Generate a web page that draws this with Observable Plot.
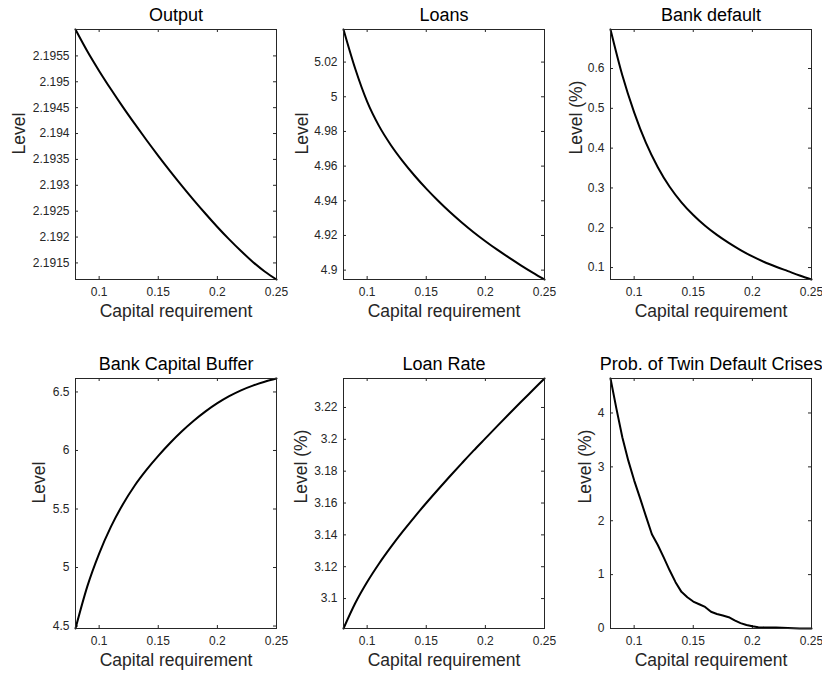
<!DOCTYPE html>
<html>
<head>
<meta charset="utf-8">
<script src="https://cdn.jsdelivr.net/npm/d3@7"></script>
<script src="https://cdn.jsdelivr.net/npm/@observablehq/plot@0.6"></script>
<style>
  html, body { margin: 0; padding: 0; background: #fff; }
  #figure { position: relative; width: 822px; height: 673px; background: #fff; overflow: hidden; }
  #figure svg { position: absolute; }
</style>
</head>
<body>
<div id="figure"></div>
<script>
// Capital requirement grid (x axis of every panel)
const capReq = [0.08, 0.09, 0.10, 0.11, 0.12, 0.13, 0.14, 0.15, 0.16,
                0.17, 0.18, 0.19, 0.20, 0.21, 0.22, 0.23, 0.24, 0.25];

// Finer grid used for the simulated crisis probability
const capReqFine = [0.080, 0.085, 0.090, 0.095, 0.100, 0.105, 0.110, 0.115, 0.120,
                    0.125, 0.130, 0.135, 0.140, 0.145, 0.150, 0.155, 0.160, 0.165,
                    0.170, 0.175, 0.180, 0.185, 0.190, 0.195, 0.200, 0.205, 0.210,
                    0.215, 0.220, 0.225, 0.230, 0.235, 0.240, 0.245, 0.250];

// Series (one value per capital requirement)
const output = [2.196010, 2.195590, 2.195210, 2.194855, 2.194515, 2.194190, 2.193875, 2.193570, 2.193275,
                2.192990, 2.192715, 2.192450, 2.192195, 2.191955, 2.191730, 2.191520, 2.191335, 2.191180];
const loans = [5.0388, 5.0160, 4.9972, 4.9832, 4.9722, 4.9629, 4.9546, 4.9470, 4.9400,
               4.9335, 4.9275, 4.9219, 4.9167, 4.9118, 4.9072, 4.9028, 4.8986, 4.8946];
const bankDefault = [0.698, 0.583, 0.490, 0.413, 0.352, 0.303, 0.264, 0.232, 0.205,
                     0.182, 0.162, 0.144, 0.128, 0.114, 0.102, 0.091, 0.080, 0.070];
const capitalBuffer = [4.479, 4.839, 5.119, 5.349, 5.539, 5.699, 5.834, 5.954, 6.064,
                       6.164, 6.254, 6.334, 6.404, 6.464, 6.514, 6.554, 6.587, 6.615];
const loanRate = [3.0812, 3.0972, 3.1104, 3.1219, 3.1323, 3.1420, 3.1512, 3.1600, 3.1685,
                  3.1768, 3.1849, 3.1929, 3.2006, 3.2083, 3.2159, 3.2234, 3.2308, 3.2382];
const twinCrisis = [4.64, 4.08, 3.55, 3.12, 2.75, 2.42, 2.08, 1.75, 1.55,
                    1.32, 1.08, 0.86, 0.68, 0.58, 0.50, 0.45, 0.40, 0.31,
                    0.27, 0.24, 0.21, 0.15, 0.10, 0.065, 0.04, 0.025, 0.02,
                    0.02, 0.02, 0.015, 0.01, 0.005, 0.0, 0.0, 0.0];

// Tick labels
const xTicks = [0.1, 0.15, 0.2, 0.25];
const outputTicks = [2.1915, 2.192, 2.1925, 2.193, 2.1935, 2.194, 2.1945, 2.195, 2.1955];
const loansTicks = [4.9, 4.92, 4.94, 4.96, 4.98, 5, 5.02];
const defaultTicks = [0.1, 0.2, 0.3, 0.4, 0.5, 0.6];
const bufferTicks = [4.5, 5, 5.5, 6, 6.5];
const rateTicks = [3.1, 3.12, 3.14, 3.16, 3.18, 3.2, 3.22];
const twinTicks = [0, 1, 2, 3, 4];

const titles = ["Output", "Loans", "Bank default", "Bank Capital Buffer", "Loan Rate", "Prob. of Twin Default Crises"];
const yLabels = ["Level", "Level", "Level (%)", "Level", "Level (%)", "Level (%)"];
const xLabel = "Capital requirement";

// Subplot geometry
const colLeft = [75, 342.7, 609.5];
const rowTop = [29, 377.5];
const frameW = 201, frameH = 250;
const mL = 80, mR = 14, mT = 36, mB = 46;
const ink = "#262626";
const font = "Liberation Sans, Arial, Helvetica, sans-serif";

const panels = [
  {x: capReq, y: output, ticks: outputTicks, col: 0, row: 0, yOff: 56.5, curve: "monotone-x"},
  {x: capReq, y: loans, ticks: loansTicks, col: 1, row: 0, yOff: 41, curve: "monotone-x"},
  {x: capReq, y: bankDefault, ticks: defaultTicks, col: 2, row: 0, yOff: 34.5, curve: "monotone-x"},
  {x: capReq, y: capitalBuffer, ticks: bufferTicks, col: 0, row: 1, yOff: 36, curve: "monotone-x"},
  {x: capReq, y: loanRate, ticks: rateTicks, col: 1, row: 1, yOff: 42, curve: "monotone-x"},
  {x: capReqFine, y: twinCrisis, ticks: twinTicks, col: 2, row: 1, yOff: 25.5, curve: "linear"}
];

const fig = document.getElementById("figure");

panels.forEach((p, i) => {
  const data = p.x.map((x, k) => ({x, y: p.y[k]}));
  const yDomain = d3.extent(p.y);
  const fmt = d => String(+d.toFixed(6));
  const chart = Plot.plot({
    width: mL + frameW + mR,
    height: mT + frameH + mB,
    marginLeft: mL, marginRight: mR, marginTop: mT, marginBottom: mB,
    style: {background: "transparent", overflow: "visible", color: ink, fontFamily: font},
    x: {domain: [0.08, 0.25]},
    y: {domain: yDomain},
    marks: [
      // tick labels only; the tick lines are drawn inward below
      Plot.axisX({ticks: xTicks, tickSize: 0, tickPadding: 8, tickFormat: fmt, fontSize: 12, label: null, fill: ink}),
      Plot.axisY({ticks: p.ticks, tickSize: 0, tickPadding: 6, tickFormat: fmt, fontSize: 12, label: null, fill: ink}),
      // inward ticks on all four sides of the box
      Plot.ruleX(xTicks, {x: d => d, insetTop: frameH - 3, stroke: ink}),
      Plot.ruleX(xTicks, {x: d => d, insetBottom: frameH - 3, stroke: ink}),
      Plot.ruleY(p.ticks, {y: d => d, insetRight: frameW - 3, stroke: ink}),
      Plot.ruleY(p.ticks, {y: d => d, insetLeft: frameW - 3, stroke: ink}),
      Plot.line(data, {x: "x", y: "y", stroke: "black", strokeWidth: 2, curve: p.curve}),
      Plot.frame({stroke: ink, strokeWidth: 1}),
      Plot.text([titles[i]], {frameAnchor: "top", dy: -14, fontSize: 18, fill: "black", lineAnchor: "middle"}),
      Plot.text([xLabel], {frameAnchor: "bottom", dy: 32, fontSize: 17.5, fill: ink, lineAnchor: "middle"}),
      Plot.text([yLabels[i]], {frameAnchor: "left", dx: -p.yOff, rotate: -90, fontSize: 17.5, fill: ink, lineAnchor: "middle"})
    ]
  });
  chart.style.left = (colLeft[p.col] - mL) + "px";
  chart.style.top = (rowTop[p.row] - mT) + "px";
  fig.appendChild(chart);
});
</script>
</body>
</html>
